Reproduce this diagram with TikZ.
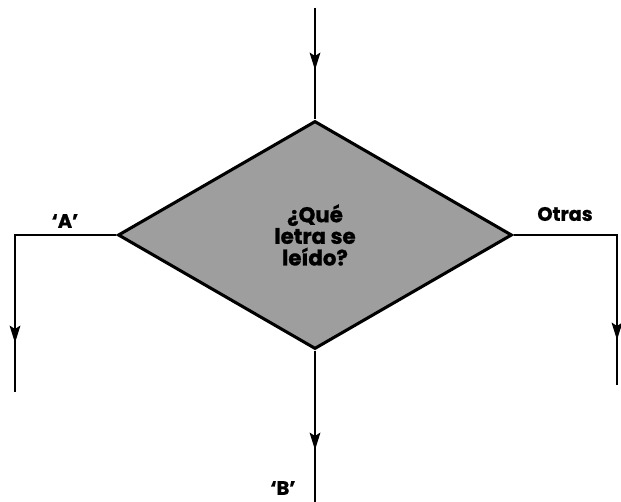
\documentclass[tikz,border=0pt]{standalone}
\usepackage{fontspec}
\setmainfont{Poppins}[BoldFeatures={FakeBold=1.2}]
\usetikzlibrary{shapes.geometric,arrows.meta}
\tikzset{
  flow/.style={line width=1.6pt,-{Stealth[length=13pt,width=8pt,inset=2.5pt]}},
  plain/.style={line width=1.6pt},
  lbl/.style={font=\bfseries\fontsize{14.5}{16}\selectfont}
}
\begin{document}
\begin{tikzpicture}[x=0.75pt,y=-0.75pt]
\useasboundingbox (0,0) rectangle (621,502);
% decision
\node[diamond,draw,line width=2.3pt,fill=black!38,minimum width=394*0.75pt,minimum height=228*0.75pt,aspect=1.7,inner sep=0pt,align=center,font=\bfseries\fontsize{16}{16.2}\selectfont] (q) at (315,235) {¿Qué\\letra se\\leído?};
% entry
\coordinate (in) at (315,8); \coordinate (min) at (315,70);
\draw[plain] (in) -- (q.north); \draw[flow] (in) -- (min);
% branch A
\coordinate (ma) at (15,343); \coordinate (ea) at (15,392);
\draw[plain] (q.west) -| (ea); \draw[flow] (q.west) -| (ma);
% branch B
\coordinate (mb) at (315,450); \coordinate (eb) at (315,502);
\draw[plain] (q.south) -- (eb); \draw[flow] (q.south) -- (mb);
% other
\coordinate (mo) at (617,340); \coordinate (eo) at (617,385);
\draw[plain] (q.east) -| (eo); \draw[flow] (q.east) -| (mo);
% labels
\node[lbl] (la) at (65,221) {‘A’};
\node[lbl] (lb) at (283,488) {‘B’};
\node[lbl] (lo) at (565,214) {Otras};
\end{tikzpicture}
\end{document}
